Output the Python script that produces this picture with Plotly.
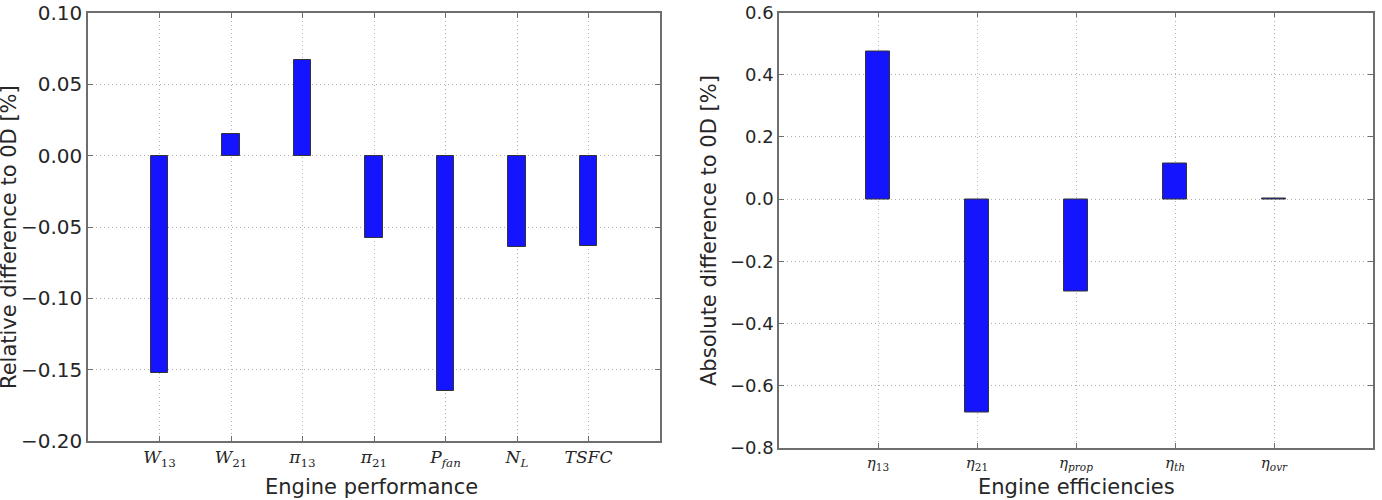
import plotly.graph_objects as go

# Data
perf_labels = ["<i>W</i><sub>13</sub>", "<i>W</i><sub>21</sub>", "<i>π</i><sub>13</sub>",
               "<i>π</i><sub>21</sub>", "<i>P<sub>fan</sub></i>", "<i>N<sub>L</sub></i>", "<i>TSFC</i>"]
perf_values = [-0.152, 0.0155, 0.067, -0.058, -0.165, -0.064, -0.063]

eff_labels = ["<i>η</i><sub>13</sub>", "<i>η</i><sub>21</sub>", "<i>η<sub>prop</sub></i>",
              "<i>η<sub>th</sub></i>", "<i>η<sub>ovr</sub></i>"]
eff_values = [0.474, -0.685, -0.298, 0.116, 0.002]

W, H = 1382, 500
BAR = "#1414ff"
EDGE = "#333333"
FRAME = "#6e6e6e"
GRID = "#b0b0b0"
TXT = "#262626"

fig = go.Figure()
fig.add_trace(go.Bar(x=list(range(len(perf_values))), y=perf_values, width=0.25,
                     marker=dict(color=BAR, line=dict(color=EDGE, width=1)),
                     xaxis="x", yaxis="y", showlegend=False))
fig.add_trace(go.Bar(x=list(range(len(eff_values))), y=eff_values, width=0.25,
                     marker=dict(color=BAR, line=dict(color=EDGE, width=1)),
                     xaxis="x2", yaxis="y2", showlegend=False))

axis_common = dict(showline=True, linecolor=FRAME, linewidth=1.5, mirror="allticks",
                   ticks="inside", ticklen=5, tickcolor=FRAME, automargin=False,
                   showgrid=True, gridcolor=GRID, griddash="1px,3px", gridwidth=1,
                   zeroline=False)

fig.update_layout(
    template="none",
    width=W, height=H,
    margin=dict(l=0, r=0, t=0, b=0, pad=0),
    paper_bgcolor="white", plot_bgcolor="white",
    bargap=0,
    xaxis=dict(domain=[88 / W, 660 / W], anchor="y", range=[-1, 7],
               tickvals=list(range(len(perf_labels))), ticktext=perf_labels,
               tickfont=dict(family="DejaVu Serif", size=17, color=TXT), **axis_common),
    yaxis=dict(domain=[1 - 441 / H, 1 - 13 / H], anchor="x", range=[-0.2, 0.1],
               tickvals=[-0.2, -0.15, -0.1, -0.05, 0.0, 0.05, 0.1], tickformat=".2f",
               tickfont=dict(family="DejaVu Sans", size=20, color=TXT), **axis_common),
    xaxis2=dict(domain=[779 / W, 1373 / W], anchor="y2", range=[-1, 5],
                tickvals=list(range(len(eff_labels))), ticktext=eff_labels,
                tickfont=dict(family="DejaVu Serif", size=15, color=TXT), **axis_common),
    yaxis2=dict(domain=[1 - 448 / H, 1 - 12.5 / H], anchor="x2", range=[-0.8, 0.6],
                tickvals=[-0.8, -0.6, -0.4, -0.2, 0.0, 0.2, 0.4, 0.6], tickformat=".1f",
                tickfont=dict(family="DejaVu Sans", size=18, color=TXT), **axis_common),
)

ann_font = dict(family="DejaVu Sans", size=21, color=TXT)
fig.add_annotation(text="Engine performance", x=372 / W, y=1 - 487 / H, xref="paper", yref="paper",
                   showarrow=False, font=ann_font, xanchor="center", yanchor="middle")
fig.add_annotation(text="Engine efficiencies", x=1076 / W, y=1 - 487 / H, xref="paper", yref="paper",
                   showarrow=False, font=ann_font, xanchor="center", yanchor="middle")
fig.add_annotation(text="Relative difference to 0D [%]", x=9 / W, y=1 - 237 / H, xref="paper", yref="paper",
                   showarrow=False, font=ann_font, textangle=-90, xanchor="center", yanchor="middle")
fig.add_annotation(text="Absolute difference to 0D [%]", x=709 / W, y=1 - 230 / H, xref="paper", yref="paper",
                   showarrow=False, font=ann_font, textangle=-90, xanchor="center", yanchor="middle")

fig.write_html("out.html")
